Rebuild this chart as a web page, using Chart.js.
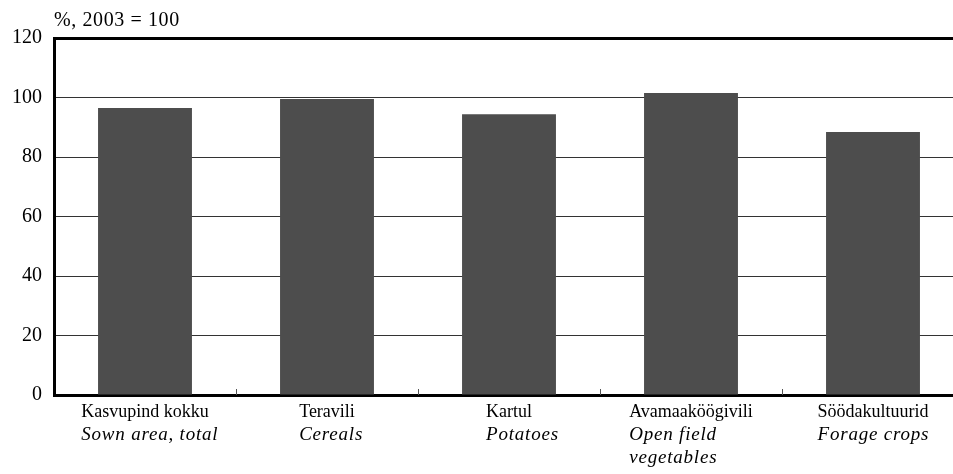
<!DOCTYPE html>
<html>
<head>
<meta charset="utf-8">
<script src="https://cdn.jsdelivr.net/npm/chart.js@4"></script>
<style>
    html, body { margin: 0; padding: 0; overflow: hidden; background: #fff; }
    #wrap { position: absolute; left: 0; top: 0; width: 980px; height: 474px; }
</style>
</head>
<body>
<div id="wrap"><canvas id="bar-chart"></canvas></div>
<script>
// data
const labelsEt = ["Kasvupind kokku", "Teravili", "Kartul", "Avamaaköögivili", "Söödakultuurid"];
const labelsEn = [["Sown area, total"], ["Cereals"], ["Potatoes"], ["Open field", "vegetables"], ["Forage crops"]];
const values = [96.5, 99.5, 94.4, 101.5, 88.4];
const yTicks = [0, 20, 40, 60, 80, 100, 120];
const unitTitle = "%, 2003 = 100";

const serif = "'Liberation Serif', 'Times New Roman', serif";

// draws the unit title, inner ticks on the x axis and the two-language labels
const labelPlugin = {
    id: "labelPlugin",
    afterDraw(chart) {
        const ctx = chart.ctx;
        const area = chart.chartArea;
        const x = chart.scales.x;
        ctx.save();

        ctx.fillStyle = "#000";
        ctx.font = "20px " + serif;
        ctx.letterSpacing = "0.6px";
        ctx.textAlign = "left";
        ctx.textBaseline = "alphabetic";
        ctx.fillText(unitTitle, area.left, 26);

        // small ticks pointing up between categories
        ctx.strokeStyle = "#555";
        ctx.lineWidth = 1;
        for (let i = 0; i < labelsEt.length - 1; i++) {
            const px = Math.round((x.getPixelForValue(i) + x.getPixelForValue(i + 1)) / 2) + 0.5;
            ctx.beginPath();
            ctx.moveTo(px, area.bottom);
            ctx.lineTo(px, area.bottom - 6);
            ctx.stroke();
        }

        labelsEt.forEach((et, i) => {
            const cx = x.getPixelForValue(i);
            ctx.font = "18px " + serif;
            ctx.letterSpacing = "0px";
            const w = ctx.measureText(et).width;
            const left = cx - w / 2;
            ctx.fillText(et, left, area.bottom + 22);
            ctx.font = "italic 19px " + serif;
            ctx.letterSpacing = "0.8px";
            labelsEn[i].forEach((line, j) => {
                ctx.fillText(line, left, area.bottom + 45 + j * 23);
            });
        });
        ctx.restore();
    },
};

new Chart(document.getElementById("bar-chart"), {
    type: "bar",
    data: {
        labels: labelsEt,
        datasets: [
            {
                data: values,
                backgroundColor: "#4d4d4d",
                categoryPercentage: 1,
                barPercentage: 0.516,
            },
        ],
    },
    options: {
        responsive: true,
        maintainAspectRatio: false,
        animation: false,
        layout: { padding: { top: 38, right: 16, bottom: 0, left: 0 } },
        plugins: {
            legend: { display: false },
            tooltip: { enabled: false },
        },
        scales: {
            x: {
                grid: { display: false },
                border: { display: true, color: "#000", width: 3 },
                ticks: { display: false },
                afterFit(scale) {
                    scale.height = 79;
                },
            },
            y: {
                min: 0,
                max: 120,
                afterBuildTicks(scale) {
                    scale.ticks = yTicks.map((v) => ({ value: v }));
                },
                grid: {
                    drawTicks: false,
                    color: (c) => (c.tick && c.tick.value === 120 ? "#000" : "#333"),
                    lineWidth: (c) => (c.tick && c.tick.value === 120 ? 3 : 1),
                },
                border: { display: true, color: "#000", width: 3 },
                ticks: {
                    color: "#000",
                    padding: 12,
                    font: { family: serif, size: 20 },
                },
                afterFit(scale) {
                    scale.width = 54;
                },
            },
        },
    },
    plugins: [labelPlugin],
});
</script>
</body>
</html>
